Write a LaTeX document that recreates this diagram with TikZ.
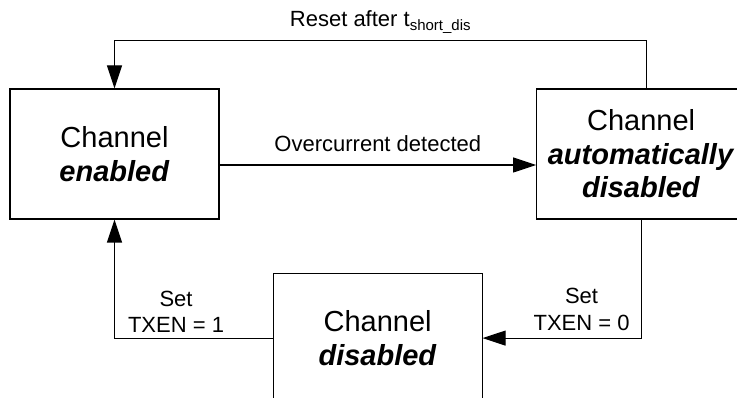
\documentclass[tikz,border=0pt]{standalone}
\usepackage{fontspec}
\setmainfont{Liberation Sans}
\usetikzlibrary{positioning,arrows.meta}

\tikzset{
  state/.style={draw, line width=1.1pt, fill=white, minimum width=209pt,
    minimum height=130pt, inner sep=0pt, align=center,
    font=\fontsize{29}{33.5}\selectfont},
  flow/.style={line width=1.1pt, -{Triangle[length=23pt,width=15pt]}},
  lbl/.style={inner sep=0pt, align=center, font=\fontsize{22}{26.5}\selectfont}
}

\begin{document}
\begin{tikzpicture}
\useasboundingbox (0,0) rectangle (737pt,-398pt);
\clip (0,0) rectangle (737pt,-398pt);

\node[state]		(ch_en)		at (114.5pt,-154pt)	{Channel\\\textbf{\textit{enabled}}};
\node[state, right = 316.5pt of ch_en]		(ch_auto)		{Channel\\\textbf{\textit{automatically}}\\\textbf{\textit{disabled}}};
\node[state, below right = 53pt and 53pt of ch_en]		(ch_dis)		{Channel\\\textbf{\textit{disabled}}};

\draw[flow] ([yshift=-11pt]ch_en.east) -- node[lbl, anchor=base, yshift=13pt] {Overcurrent detected} ([yshift=-11pt]ch_auto.west);
\draw[flow] ([xshift=5pt]ch_auto.north) |- node[lbl, pos=0.75, anchor=base, yshift=14pt] {Reset after t\raisebox{-4pt}{\fontsize{15}{15}\selectfont short\_dis}} ([yshift=48pt]ch_en.north) -- (ch_en.north);
\draw[flow] (ch_auto.south) |- node[lbl, pos=0.5, anchor=south east, xshift=-11pt, yshift=7pt] {Set\\TXEN = 0} (ch_dis.east);
\draw[flow] (ch_dis.west) -| node[lbl, pos=0.5, anchor=south west, xshift=13pt, yshift=5pt] {Set\\TXEN = 1} (ch_en.south);
\end{tikzpicture}
\end{document}
